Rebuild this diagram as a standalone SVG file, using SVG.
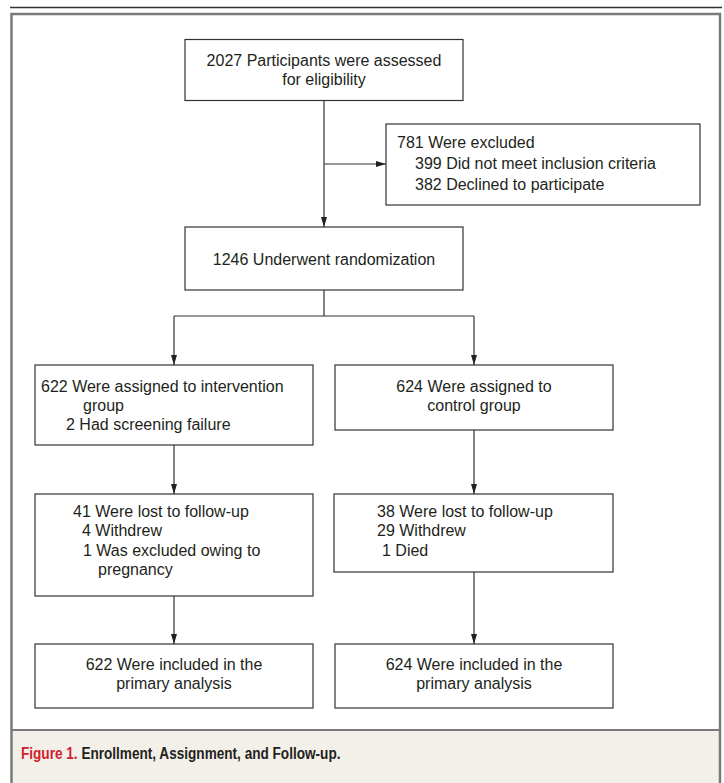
<svg xmlns="http://www.w3.org/2000/svg" width="724" height="783" viewBox="0 0 724 783">
<style>
.box{fill:#fff;stroke:#333;stroke-width:1.2}
.t{font-family:"Liberation Sans",Arial,sans-serif;font-size:16px;fill:#231f20}
.c{text-anchor:middle}
.ln{fill:none;stroke:#333;stroke-width:1.2}
.cap{font-family:"Liberation Sans",Arial,sans-serif;font-size:17px;font-weight:bold;fill:#231f20}
.red{fill:#d0202e}
</style>
<defs>
<marker id="ah" viewBox="0 0 10 6" refX="10" refY="3" markerWidth="10" markerHeight="6" markerUnits="userSpaceOnUse" orient="auto">
<path d="M0,0 L10,3 L0,6 Z" fill="#231f20"/>
</marker>
</defs>
<rect width="724" height="783" fill="#fff"/>
<line x1="10" y1="7.5" x2="722" y2="7.5" stroke="#333" stroke-width="1.3"/>
<rect x="11" y="730" width="709" height="60" fill="#f3f0e9"/>
<rect x="11.5" y="14" width="708.5" height="780" fill="none" stroke="#7a7a7a" stroke-width="2.5"/>
<line x1="11" y1="730" x2="720" y2="730" stroke="#7a7a7a" stroke-width="2"/>
<g id="connectors">
<path class="ln" d="M324,100 V227" marker-end="url(#ah)"/>
<path class="ln" d="M324,164 H386" marker-end="url(#ah)"/>
<path class="ln" d="M324,290 V316"/>
<path class="ln" d="M174,316 H474"/>
<path class="ln" d="M174,316 V365" marker-end="url(#ah)"/>
<path class="ln" d="M474,316 V365" marker-end="url(#ah)"/>
<path class="ln" d="M174,445 V494" marker-end="url(#ah)"/>
<path class="ln" d="M474,430 V494" marker-end="url(#ah)"/>
<path class="ln" d="M174,596 V644" marker-end="url(#ah)"/>
<path class="ln" d="M474,572 V644" marker-end="url(#ah)"/>
</g>
<g id="assessed">
<rect class="box" x="185" y="39.5" width="278" height="61"/>
<text class="t c" x="324" y="66">2027 Participants were assessed</text>
<text class="t c" x="324" y="85">for eligibility</text>
</g>
<g id="excluded">
<rect class="box" x="386" y="124" width="314" height="81"/>
<text class="t" x="397" y="148">781 Were excluded</text>
<text class="t" x="415" y="169">399 Did not meet inclusion criteria</text>
<text class="t" x="415" y="190">382 Declined to participate</text>
</g>
<g id="randomization">
<rect class="box" x="185" y="227" width="278" height="63"/>
<text class="t c" x="324" y="265">1246 Underwent randomization</text>
</g>
<g id="intervention">
<rect class="box" x="35" y="365" width="278" height="80"/>
<text class="t" x="41" y="392">622 Were assigned to intervention</text>
<text class="t" x="83" y="411">group</text>
<text class="t" x="66" y="430">2 Had screening failure</text>
</g>
<g id="control">
<rect class="box" x="335" y="365" width="278" height="65"/>
<text class="t c" x="474" y="392">624 Were assigned to</text>
<text class="t c" x="474" y="411">control group</text>
</g>
<g id="lost-intervention">
<rect class="box" x="35" y="494" width="278" height="102"/>
<text class="t" x="73" y="517">41 Were lost to follow-up</text>
<text class="t" x="82" y="536">4 Withdrew</text>
<text class="t" x="83" y="556">1 Was excluded owing to</text>
<text class="t" x="98" y="575">pregnancy</text>
</g>
<g id="lost-control">
<rect class="box" x="334" y="494" width="279" height="78"/>
<text class="t" x="377" y="517">38 Were lost to follow-up</text>
<text class="t" x="377" y="536">29 Withdrew</text>
<text class="t" x="382" y="556">1 Died</text>
</g>
<g id="analysis-intervention">
<rect class="box" x="35" y="644" width="278" height="64"/>
<text class="t c" x="174" y="670">622 Were included in the</text>
<text class="t c" x="174" y="689">primary analysis</text>
</g>
<g id="analysis-control">
<rect class="box" x="335" y="644" width="278" height="64"/>
<text class="t c" x="474" y="670">624 Were included in the</text>
<text class="t c" x="474" y="689">primary analysis</text>
</g>
<text class="cap" transform="translate(21 759) scale(0.8 1)"><tspan class="red">Figure 1.</tspan> Enrollment, Assignment, and Follow-up.</text>
</svg>
